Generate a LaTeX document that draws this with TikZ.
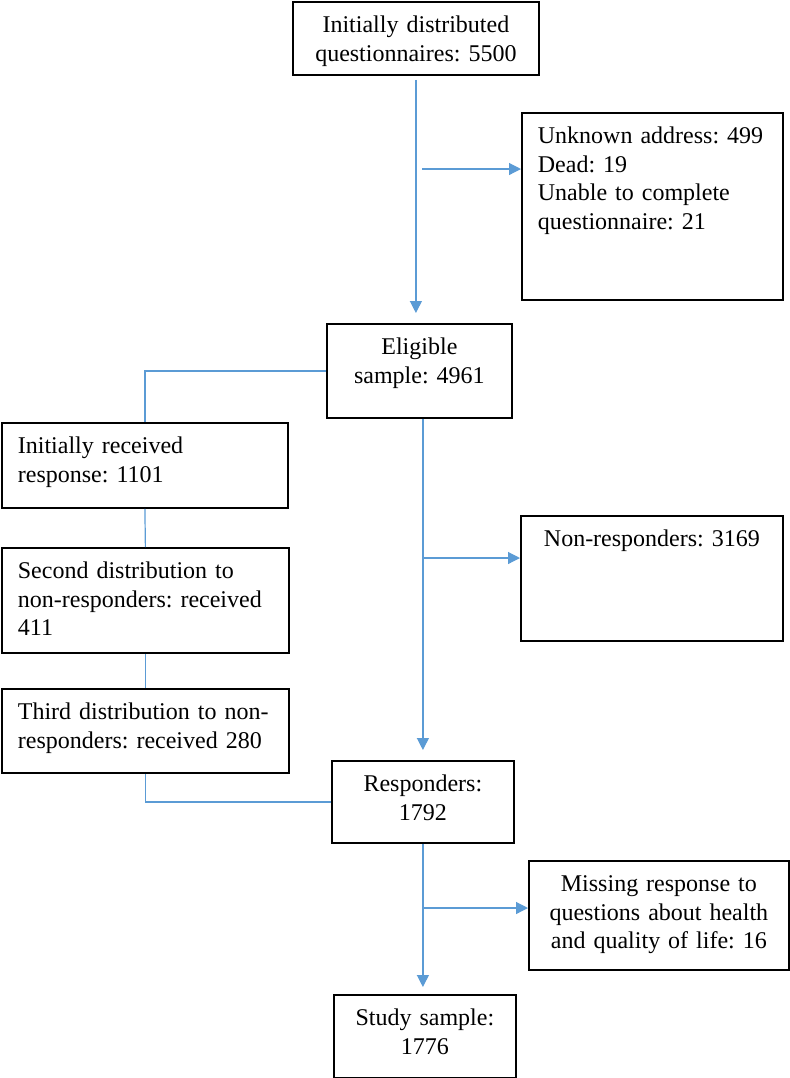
\documentclass[tikz,border=0pt]{standalone}
\usepackage{fontspec}
\setmainfont{Liberation Serif}
\frenchspacing
\usetikzlibrary{arrows.meta}
\definecolor{lineblue}{HTML}{5B9BD5}
\tikzset{%
  myedge/.style={-{Triangle[length=6pt,width=6pt]}, draw=lineblue, line width=0.6pt},
  myline/.style={draw=lineblue, line width=0.6pt},
  mybox/.style={draw=black, line width=0.9pt, anchor=north west, inner xsep=8pt, inner ysep=0pt,
    text height=15.5pt, font=\fontsize{12}{14.25}\selectfont}
}
\begin{document}
\begin{tikzpicture}[x=0.5pt, y=-0.5pt]
  \useasboundingbox (0,0) rectangle (789,1078);
  \node[mybox, minimum width=123pt, text width=107pt, text depth=21pt, align=center] (dist) at (292,1) {Initially distributed\\questionnaires: 5500};
  \node[mybox, minimum width=130.5pt, text width=114.5pt, text depth=78pt, align=left] (excl) at (521,112) {Unknown address: 499\\Dead: 19\\Unable to complete\\questionnaire: 21};
  \node[mybox, minimum width=92.5pt, text width=76.5pt, text depth=31.5pt, align=center] (elig) at (326,323) {Eligible\\sample: 4961};
  \node[mybox, minimum width=143pt, text width=127pt, text depth=27pt, align=left] (init) at (1,422) {Initially received\\response: 1101};
  \node[mybox, minimum width=143.5pt, text width=127.5pt, text depth=37pt, align=left] (second) at (1,547) {Second distribution to\\non-responders: received\\411};
  \node[mybox, minimum width=143.5pt, text width=127.5pt, text depth=26.5pt, align=left] (third) at (1,688) {Third distribution to non-\\responders: received 280};
  \node[mybox, minimum width=131pt, text width=115pt, text depth=47pt, align=center] (nonresp) at (520,515) {Non-responders: 3169};
  \node[mybox, minimum width=91pt, text width=75pt, text depth=25.5pt, align=center] (resp) at (331,760) {Responders:\\1792};
  \node[mybox, minimum width=130pt, text width=114pt, text depth=39pt, align=center] (missing) at (528,860) {Missing response to\\questions about health\\and quality of life: 16};
  \node[mybox, minimum width=91pt, text width=75pt, text depth=26pt, align=center] (study) at (333,994) {Study sample:\\1776};

  \draw [myedge, shorten <=2pt, shorten >=5pt] (dist.south) -- (dist.south |- elig.north);
  \coordinate (b1) at (422,169);
  \draw [myedge] (b1) -- (b1 -| excl.west);
  \draw [myline] (elig.west) -| (init.north);
  \draw [myline] (init.south) -- (second.north);
  \draw [myline] (second.south) -- (third.north);
  \draw [myline] (third.south) |- (resp.west);
  \draw [myedge, shorten >=5pt] (resp.north |- elig.south) -- (resp.north);
  \coordinate (b2) at (422,558);
  \draw [myedge] (b2) -- (b2 -| nonresp.west);
  \draw [myedge, shorten >=3.5pt] (resp.south) -- (resp.south |- study.north);
  \coordinate (b3) at (423,908);
  \draw [myedge] (b3) -- (b3 -| missing.west);
\end{tikzpicture}
\end{document}
